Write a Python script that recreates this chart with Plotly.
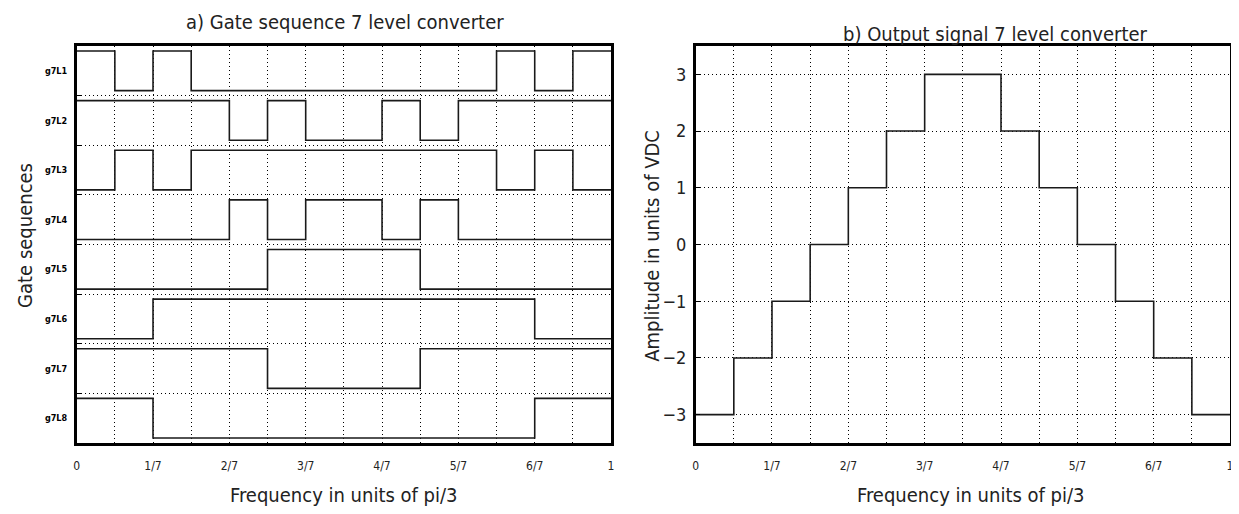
import plotly.graph_objects as go

# ---------------- data ----------------
n_seg = 14  # time segments of 1/14 each
x_tick_text = ["0", "1/7", "2/7", "3/7", "4/7", "5/7", "6/7", "1"]

gate_names = ["g7L1", "g7L2", "g7L3", "g7L4", "g7L5", "g7L6", "g7L7", "g7L8"]
g7L1 = [1, 0, 1, 0, 0, 0, 0, 0, 0, 0, 0, 1, 0, 1]
g7L2 = [1, 1, 1, 1, 0, 1, 0, 0, 1, 0, 1, 1, 1, 1]
g7L3 = [0, 1, 0, 1, 1, 1, 1, 1, 1, 1, 1, 0, 1, 0]
g7L4 = [0, 0, 0, 0, 1, 0, 1, 1, 0, 1, 0, 0, 0, 0]
g7L5 = [0, 0, 0, 0, 0, 1, 1, 1, 1, 0, 0, 0, 0, 0]
g7L6 = [0, 0, 1, 1, 1, 1, 1, 1, 1, 1, 1, 1, 0, 0]
g7L7 = [1, 1, 1, 1, 1, 0, 0, 0, 0, 1, 1, 1, 1, 1]
g7L8 = [1, 1, 0, 0, 0, 0, 0, 0, 0, 0, 0, 0, 1, 1]
gates = [g7L1, g7L2, g7L3, g7L4, g7L5, g7L6, g7L7, g7L8]

output_levels = [-3, -2, -1, 0, 1, 2, 3, 3, 2, 1, 0, -1, -2, -3]
y_ticks_right = [-3, -2, -1, 0, 1, 2, 3]

# ---------------- figure ----------------
OFF = 8                     # page body margin
W, H = 1239 - OFF, 514 - OFF
FONT = "DejaVu Sans Condensed, Liberation Sans Narrow, sans-serif"
TXT = "#222222"
LINE = "#1a1a1a"

t = [k / n_seg for k in range(n_seg + 1)]
n_g = len(gates)

fig = go.Figure()

for i, (name, g) in enumerate(zip(gate_names, gates)):
    base = n_g - 1 - i
    yy = [base + 0.1 + 0.8 * v for v in g] + [base + 0.1 + 0.8 * g[-1]]
    fig.add_trace(go.Scatter(x=t, y=yy, mode="lines", line=dict(color=LINE, width=1.6, shape="hv"),
                             name=name, showlegend=False, xaxis="x", yaxis="y"))

fig.add_trace(go.Scatter(x=t, y=output_levels + [output_levels[-1]], mode="lines",
                         line=dict(color=LINE, width=1.6, shape="hv"),
                         showlegend=False, xaxis="x2", yaxis="y2"))


def px_x(p):
    return (p - OFF) / W


def px_y(p):
    return 1 - (p - OFF) / H


dom_left = [px_x(74), px_x(611)]
dom_right = [px_x(696), px_x(1233)]
dom_y = [px_y(443), px_y(46)]

x_vals = [k / n_seg for k in range(n_seg + 1)]
x_text = [x_tick_text[k // 2] if k % 2 == 0 else "" for k in range(n_seg + 1)]

axis_line = dict(showline=True, mirror=True, linecolor="black", linewidth=2.5, zeroline=False)
grid = dict(showgrid=True, gridcolor="black", gridwidth=1, griddash="1px,3px")

fig.update_layout(
    width=W, height=H,
    margin=dict(l=0, r=0, t=0, b=0),
    paper_bgcolor="white", plot_bgcolor="white",
    font=dict(family=FONT, color=TXT),
    xaxis=dict(domain=dom_left, range=[0, 1], tickmode="array", tickvals=x_vals, ticktext=x_text,
               ticks="", tickfont=dict(size=12, family=FONT, color=TXT), ticklabelstandoff=10,
               anchor="y", **axis_line, **grid),
    yaxis=dict(domain=dom_y, range=[0, n_g], tickmode="array",
               tickvals=[n_g - 1 - i + 0.5 for i in range(n_g)],
               ticktext=["<b>%s</b>" % s for s in gate_names],
               ticks="", showgrid=False, tickfont=dict(size=9, family=FONT, color="black"),
               ticklabelstandoff=5,
               minor=dict(tickmode="array", tickvals=list(range(1, n_g)), ticks="inside", ticklen=5,
                          tickcolor="black", showgrid=True, gridcolor="black", gridwidth=1,
                          griddash="1px,3px"),
               anchor="x", **axis_line),
    xaxis2=dict(domain=dom_right, range=[0, 1], tickmode="array", tickvals=x_vals, ticktext=x_text,
                ticks="", tickfont=dict(size=12, family=FONT, color=TXT), ticklabelstandoff=10,
                anchor="y2", **axis_line, **grid),
    yaxis2=dict(domain=dom_y, range=[-3.5, 3.5], tickmode="array", tickvals=y_ticks_right,
                ticktext=[("\u2212" + str(abs(v))) if v < 0 else str(v) for v in y_ticks_right],
                ticks="inside", ticklen=5, tickcolor="black",
                tickfont=dict(size=18, family=FONT, color=TXT), ticklabelstandoff=3,
                anchor="x2", **axis_line, **grid),
)

ann = [
    ("a) Gate sequence 7 level converter", 344, 22),
    ("b) Output signal 7 level converter", 997, 34),
    ("Frequency in units of pi/3", 343, 495),
    ("Frequency in units of pi/3", 973, 495),
]
for text, x, y in ann:
    fig.add_annotation(text=text, x=px_x(x), y=px_y(y), xref="paper", yref="paper",
                       showarrow=False, xanchor="center", yanchor="middle",
                       font=dict(size=20, family=FONT, color=TXT))

fig.add_annotation(text="Gate sequences", x=px_x(22), y=px_y(235), xref="paper", yref="paper",
                   showarrow=False, textangle=-90, xanchor="center", yanchor="middle",
                   font=dict(size=20, family=FONT, color=TXT))
fig.add_annotation(text="Amplitude in units of VDC", x=px_x(652), y=px_y(246), xref="paper", yref="paper",
                   showarrow=False, textangle=-90, xanchor="center", yanchor="middle",
                   font=dict(size=20, family=FONT, color=TXT))

fig.write_html("out.html")
